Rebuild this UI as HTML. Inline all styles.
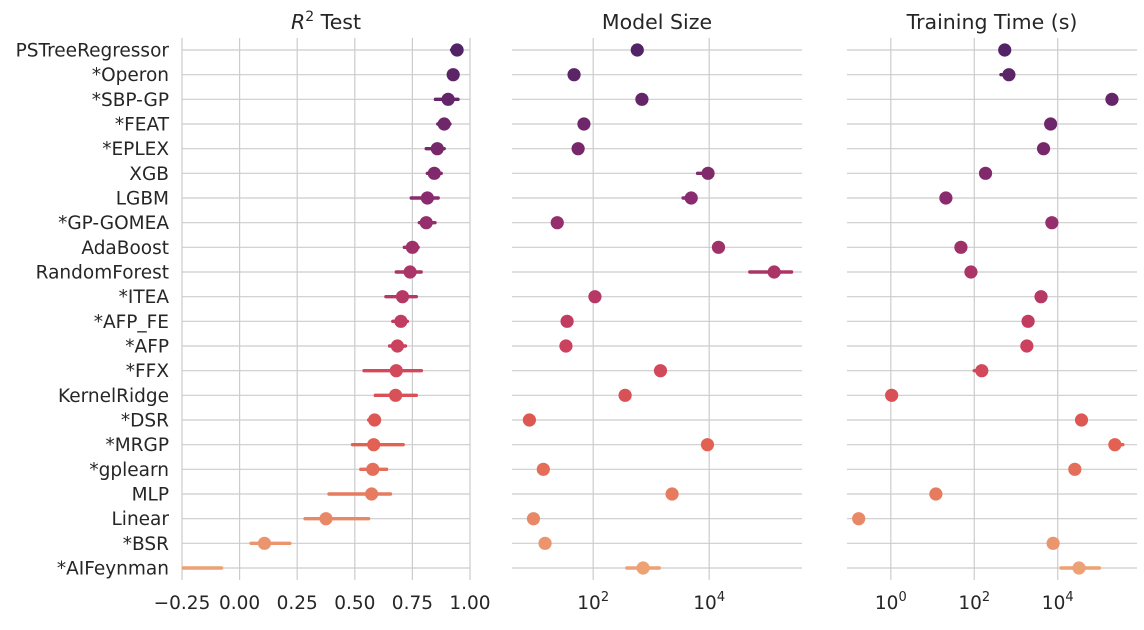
<!DOCTYPE html>
<html><head><meta charset="utf-8"><style>
body{margin:0;background:#fff;font-family:"Liberation Sans","DejaVu Sans",sans-serif;}
svg text{font-family:"DejaVu Sans","Liberation Sans",sans-serif;fill:#262626;}
</style></head><body>
<svg id="chart" width="1144" height="625" xmlns="http://www.w3.org/2000/svg"></svg>
<script>
const methods=["PSTreeRegressor","*Operon","*SBP-GP","*FEAT","*EPLEX","XGB","LGBM","*GP-GOMEA","AdaBoost","RandomForest","*ITEA","*AFP_FE","*AFP","*FFX","KernelRidge","*DSR","*MRGP","*gplearn","MLP","Linear","*BSR","*AIFeynman"];
const r2=[0.944,0.927,0.905,0.888,0.858,0.845,0.815,0.81,0.75,0.74,0.707,0.70,0.685,0.68,0.677,0.586,0.582,0.578,0.573,0.375,0.108,-0.3];
const r2Lo=[0.92,0.92,0.85,0.86,0.81,0.815,0.745,0.78,0.715,0.68,0.635,0.665,0.651,0.54,0.589,0.56,0.49,0.526,0.388,0.284,0.05,-0.5];
const r2Hi=[0.95,0.935,0.948,0.913,0.888,0.875,0.862,0.848,0.775,0.788,0.767,0.728,0.72,0.789,0.767,0.607,0.71,0.638,0.655,0.56,0.218,-0.078];
const sizeLog=[2.76,1.67,2.84,1.84,1.74,3.98,3.69,1.38,4.16,5.12,2.03,1.55,1.53,3.16,2.55,0.9,3.97,1.14,3.36,0.97,1.17,2.86];
const sizeLoLog=[2.76,1.67,2.84,1.84,1.74,3.8,3.55,1.38,4.16,4.7,2.03,1.55,1.53,3.16,2.55,0.9,3.97,1.14,3.36,0.97,1.17,2.58];
const sizeHiLog=[2.76,1.67,2.84,1.84,1.74,3.98,3.69,1.38,4.16,5.42,2.03,1.55,1.53,3.16,2.55,0.9,3.97,1.14,3.36,0.97,1.17,3.14];
const timeLog=[2.73,2.83,5.3,3.83,3.66,2.27,1.32,3.86,1.68,1.92,3.6,3.29,3.26,2.18,0.02,4.57,5.37,4.41,1.08,-0.77,3.89,4.51];
const timeLoLog=[2.73,2.64,5.3,3.83,3.66,2.27,1.32,3.86,1.68,1.92,3.6,3.29,3.26,2.0,0.02,4.57,5.37,4.41,1.08,-0.77,3.89,4.08];
const timeHiLog=[2.73,2.83,5.3,3.83,3.66,2.27,1.32,3.86,1.68,1.92,3.6,3.29,3.26,2.18,0.02,4.57,5.56,4.41,1.08,-0.77,3.89,5.0];
const r2Ticks=[-0.25,0,0.25,0.5,0.75,1.0];
const r2TickLabels=["−0.25","0.00","0.25","0.50","0.75","1.00"];
const sizeTicks=[2,4];
const timeTicks=[0,2,4];

const NS="http://www.w3.org/2000/svg";
const svg=document.getElementById('chart');
function el(t,a,p){const e=document.createElementNS(NS,t);for(const k in a)e.setAttribute(k,a[k]);(p||svg).appendChild(e);return e;}
const y0=50,dy=(568-50)/21;
function yS(i){return y0+i*dy;}
const stops=[[0,[82,36,102]],[0.3,[140,43,110]],[0.55,[200,62,96]],[0.75,[226,94,80]],[1,[236,162,116]]];
function color(i){const t=i/21;for(let k=1;k<stops.length;k++){if(t<=stops[k][0]){const a=stops[k-1],b=stops[k];const f=(t-a[0])/(b[0]-a[0]);const c=a[1].map((v,j)=>Math.round(v+(b[1][j]-v)*f));return `rgb(${c})`;}}return 'rgb(236,162,116)';}

const panels=[
 {name:'r2-panel',title:'R² Test',x0:182,x1:470,d0:-0.25,d1:1.0,val:r2,lo:r2Lo,hi:r2Hi,ticks:r2Ticks,lab:r2TickLabels},
 {name:'size-panel',title:'Model Size',x0:512,x1:802,d0:0.6,d1:5.6,val:sizeLog,lo:sizeLoLog,hi:sizeHiLog,ticks:sizeTicks,log:true},
 {name:'time-panel',title:'Training Time (s)',x0:847,x1:1137,d0:-1.05,d1:5.9,val:timeLog,lo:timeLoLog,hi:timeHiLog,ticks:timeTicks,log:true}
];
panels.forEach((p,pi)=>{
 const g=el('g',{});
 
 
 const clipId='clip'+pi;
 const cp=el('clipPath',{id:clipId},g);el('rect',{x:p.x0,y:30,width:p.x1-p.x0,height:560},cp);
 const xs=v=>p.x0+(v-p.d0)/(p.d1-p.d0)*(p.x1-p.x0);
 p.ticks.forEach((t,ti)=>{
  const l=el('line',{x1:xs(t),x2:xs(t),y1:38,y2:580,stroke:'#cccccc','stroke-width':1.2},g);
  
  
  const tx=el('text',{x:xs(t),y:609,'text-anchor':'middle','font-size':18.5},g);
  
  
  if(p.log){tx.textContent='10';const s=el('tspan',{dy:-8,'font-size':13},tx);s.textContent=String(t);}
  else tx.textContent=p.lab[ti];
 });
 methods.forEach((m,i)=>{
  const l=el('line',{x1:p.x0,x2:p.x1,y1:yS(i),y2:yS(i),stroke:'#cccccc','stroke-width':1.2},g);
  
  
 });
 const tt=el('text',{x:(p.x0+p.x1)/2,y:29,'text-anchor':'middle','font-size':20.5},g);
 
 
 if(pi===0){tt.textContent='';const a=el('tspan',{'font-style':'italic'},tt);a.textContent='R';const b=el('tspan',{dy:-8,'font-size':14},tt);b.textContent='2';const c=el('tspan',{dy:8},tt);c.textContent=' Test';}
 else tt.textContent=p.title;
 const mg=el('g',{'clip-path':`url(#${clipId})`},g);
 methods.forEach((m,i)=>{
  const c=color(i);
  const e=el('line',{x1:xs(p.lo[i]),x2:xs(p.hi[i]),y1:yS(i),y2:yS(i),stroke:c,'stroke-width':3.4,'stroke-linecap':'round'},mg);
  
  
  const d=el('circle',{cx:xs(p.val[i]),cy:yS(i),r:6.6,fill:c},mg);
  
  
 });
});
methods.forEach((m,i)=>{
 const t=el('text',{x:169,y:yS(i)+6.5,'text-anchor':'end','font-size':18.5});
 
 
 t.textContent=m;
});
</script>
</body></html>
